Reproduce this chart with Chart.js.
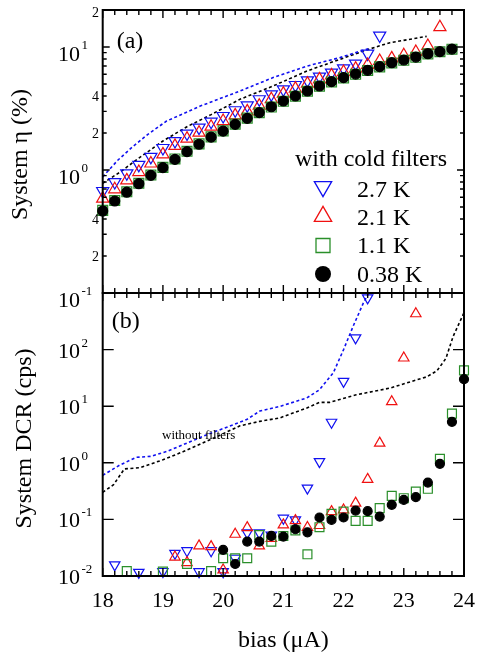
<!DOCTYPE html>
<html>
<head>
<meta charset="utf-8">
<script src="https://cdn.jsdelivr.net/npm/chart.js@4/dist/chart.umd.min.js"></script>
<style>
  html, body { margin: 0; padding: 0; background: #fff; }
  canvas { display: block; }
</style>
</head>
<body>
<canvas id="chart" width="477" height="666"></canvas>
<script>
// (a) system efficiency (%)
const etaBias = [18.0, 18.2, 18.4, 18.6, 18.8, 19.0, 19.2, 19.4, 19.6, 19.8, 20.0, 20.2, 20.4, 20.6, 20.8,
                 21.0, 21.2, 21.4, 21.6, 21.8, 22.0, 22.2, 22.4, 22.6, 22.8, 23.0, 23.2, 23.4, 23.6, 23.8];
const eta038 = [0.464, 0.56, 0.66, 0.774, 0.905, 1.046, 1.22, 1.41, 1.62, 1.85, 2.07, 2.35, 2.63, 2.93, 3.27,
                3.64, 4.0, 4.39, 4.82, 5.23, 5.64, 6.03, 6.47, 6.93, 7.46, 7.84, 8.29, 8.83, 9.17, 9.63];
const eta11 = [0.47, 0.565, 0.665, 0.78, 0.91, 1.05, 1.23, 1.42, 1.63, 1.86, 2.08, 2.36, 2.64, 2.92, 3.25,
               3.62, 3.98, 4.37, 4.8, 5.2, 5.6, 6.0, 6.45, 6.9, 7.42, 7.8, 8.25, 8.8, 9.15, 9.6];
const eta21 = [0.585, 0.697, 0.824, 0.963, 1.13, 1.34, 1.57, 1.80, 2.01, 2.25, 2.50, 2.78, 3.0, 3.33, 3.76,
               4.18, 4.59, 5.04, 5.46, 5.88, 6.26, 6.67, 7.14, 7.70, 8.09, 8.57, 9.12, 10.2, 14.5];
const eta27 = [0.675, 0.798, 0.94, 1.10, 1.28, 1.51, 1.72, 1.98, 2.21, 2.47, 2.75, 3.06, 3.36, 3.76, 4.12,
               4.53, 4.91, 5.36, 5.74, 6.19, 6.71, 7.33, 8.83, 12.4];
// dashed curves, without filters
const etaOpenBias27 = [18.0, 18.25, 18.5, 18.75, 19.06, 19.62, 20.28, 20.83, 21.39, 21.94, 22.41];
const etaOpen27 = [0.88, 1.2, 1.55, 1.95, 2.5, 3.31, 4.39, 5.64, 7.0, 8.2, 9.7];
const etaOpenBias = [18.0, 18.3, 18.6, 19.0, 19.4, 19.8, 20.28, 20.83, 21.39, 21.94, 22.38, 22.77, 23.38];
const etaOpen = [0.78, 0.97, 1.25, 1.72, 2.25, 2.82, 3.76, 4.82, 6.38, 7.94, 9.46, 10.85, 12.2];

// (b) system dark count rate (cps)
const dcrBias27 = [18.2, 18.6, 19.0, 19.2, 19.4, 19.6, 19.8, 20.0, 20.2, 20.4, 20.6, 20.8, 21.0, 21.2, 21.4,
                   21.6, 21.8, 22.0, 22.2, 22.4];
const dcr27 = [0.0157, 0.0116, 0.012, 0.0252, 0.028, 0.0119, 0.028, 0.0119, 0.0206, 0.058, 0.058, 0.053, 0.105,
               0.098, 0.357, 1.05, 5.2, 27.5, 161, 820];
const dcrBias21 = [19.2, 19.4, 19.6, 19.8, 20.0, 20.2, 20.4, 20.6, 20.8, 21.0, 21.2, 21.4, 21.6, 21.8, 22.0,
                   22.2, 22.4, 22.6, 22.8, 23.0, 23.2];
const dcr21 = [0.0216, 0.0172, 0.034, 0.033, 0.0128, 0.0547, 0.0716, 0.034, 0.0464, 0.08, 0.095, 0.072, 0.078,
               0.137, 0.147, 0.194, 0.51, 2.23, 12, 71, 430];
const dcrBias11 = [18.4, 19.0, 19.4, 19.8, 20.0, 20.2, 20.4, 20.6, 20.8, 21.0, 21.2, 21.4, 21.6, 21.8, 22.0,
                   22.2, 22.4, 22.6, 22.8, 23.0, 23.2, 23.4, 23.6, 23.8, 24.0];
const dcr11 = [0.0122, 0.012, 0.0163, 0.0122, 0.0206, 0.0206, 0.0206, 0.053, 0.0405, 0.051, 0.064, 0.0242,
               0.0728, 0.125, 0.137, 0.094, 0.094, 0.158, 0.26, 0.237, 0.31, 0.347, 1.18, 7.4, 43];
const dcrBias038 = [20.0, 20.2, 20.4, 20.6, 20.8, 21.0, 21.2, 21.4, 21.6, 21.8, 22.0, 22.2, 22.4, 22.6, 22.8,
                    23.0, 23.2, 23.4, 23.6, 23.8, 24.0];
const dcr038 = [0.029, 0.0163, 0.0405, 0.0405, 0.051, 0.0497, 0.067, 0.059, 0.108, 0.098, 0.108, 0.143, 0.14,
                0.112, 0.181, 0.221, 0.247, 0.447, 0.96, 5.3, 30];
const dcrOpenBias27 = [18.0, 18.29, 18.56, 18.8, 19.06, 19.4, 19.73, 20.17, 20.39, 20.61, 20.94, 21.39, 21.6,
                       21.83, 22.0, 22.16, 22.33, 22.42];
const dcrOpen27 = [0.6, 0.92, 1.25, 1.3, 1.58, 2.23, 3.13, 4.71, 5.8, 8.2, 9.9, 14, 19.5, 39, 100, 260, 670, 1000];
const dcrOpenBias = [18.0, 18.18, 18.36, 18.62, 19.0, 19.34, 19.78, 20.28, 20.61, 20.94, 21.39, 21.6, 21.77,
                     22.21, 22.77, 23.38, 23.55, 23.7, 23.82, 24.0];
const dcrOpen = [0.3, 0.41, 0.78, 0.82, 1.13, 1.58, 2.55, 4.5, 5.4, 6.2, 9.3, 11.7, 11.7, 15.9, 20.9, 33, 42,
                 70, 172, 450];

// axis labels
const biasTicks = [18, 19, 20, 21, 22, 23, 24];
const etaMajor = [0.1, 1, 10];
const etaMajorExp = ['-1', '0', '1'];
const etaMinorLabels = [[0.2, '2'], [0.4, '4'], [2, '2'], [4, '4'], [20, '2']];
const dcrMajor = [0.01, 0.1, 1, 10, 100];
const dcrMajorExp = ['-2', '-1', '0', '1', '2'];
const legendLabels = ['2.7 K', '2.1 K', '1.1 K', '0.38 K'];

const BLUE = '#1010f0', RED = '#f01010', GREEN = '#2a8f2a', BLACK = '#000';
const FONT = '"Liberation Serif", "Times New Roman", serif';

const pts = (xs, ys) => ys.map((v, i) => ({ x: xs[i], y: v }));

function markers(xs, ys, axis, style, color, r, rot) {
    return {
        data: pts(xs, ys), yAxisID: axis, showLine: false, clip: false,
        pointStyle: style, rotation: rot || 0, pointRadius: r, pointHoverRadius: r,
        pointBorderWidth: 1.2, pointBorderColor: color,
        pointBackgroundColor: style === 'circle' ? color : 'rgba(0,0,0,0)'
    };
}
function dashed(xs, ys, axis, color) {
    return {
        data: pts(xs, ys), yAxisID: axis, showLine: true, pointRadius: 0,
        borderColor: color, borderWidth: 1.6, borderDash: [3, 2.5], tension: 0, fill: false
    };
}

function drawMarker(ctx, kind, cx, cy, s, color) {
    ctx.beginPath();
    if (kind === 'circle') {
        ctx.arc(cx, cy, s, 0, Math.PI * 2);
        ctx.fillStyle = color;
        ctx.fill();
        return;
    }
    if (kind === 'square') {
        ctx.rect(cx - s, cy - s, 2 * s, 2 * s);
    } else {
        const d = kind === 'down' ? -1 : 1;
        ctx.moveTo(cx, cy - d * s);
        ctx.lineTo(cx + s * 0.866, cy + d * s * 0.5);
        ctx.lineTo(cx - s * 0.866, cy + d * s * 0.5);
        ctx.closePath();
    }
    ctx.strokeStyle = color;
    ctx.lineWidth = 1.3;
    ctx.stroke();
}

const framePlugin = {
    id: 'frame',
    afterDatasetsDraw(chart) {
        const ctx = chart.ctx;
        const x = chart.scales.x;
        const panels = [
            { y: chart.scales.yTop, major: etaMajor, majorLen: 7, minor: true },
            { y: chart.scales.yBot, major: dcrMajor.concat([1000]), majorLen: 11, minor: false }
        ];
        ctx.save();
        ctx.strokeStyle = '#000';
        panels.forEach(p => {
            const y = p.y;
            ctx.lineWidth = 1.4;
            ctx.beginPath();
            for (let i = 0; i <= 30; i++) {
                const px = x.getPixelForValue(18 + i * 0.2);
                const len = i % 5 === 0 ? 8 : 5;
                ctx.moveTo(px, y.bottom); ctx.lineTo(px, y.bottom - len);
                ctx.moveTo(px, y.top); ctx.lineTo(px, y.top + len);
            }
            const yTicks = [];
            p.major.forEach(v => yTicks.push([v, p.majorLen]));
            if (p.minor) {
                [0.1, 1, 10].forEach(dec => {
                    for (let m = 2; m <= 9; m++) {
                        if (m * dec <= y.max + 1e-9) yTicks.push([m * dec, 4]);
                    }
                });
            }
            yTicks.forEach(([v, len]) => {
                const py = y.getPixelForValue(v);
                ctx.moveTo(x.left, py); ctx.lineTo(x.left + len, py);
                ctx.moveTo(x.right, py); ctx.lineTo(x.right - len, py);
            });
            ctx.stroke();
            ctx.lineWidth = 2;
            ctx.strokeRect(x.left, y.top, x.right - x.left, y.bottom - y.top);
        });
        ctx.restore();
    },
    afterDraw(chart) {
        const ctx = chart.ctx;
        const x = chart.scales.x, yT = chart.scales.yTop, yB = chart.scales.yBot;
        ctx.save();
        ctx.fillStyle = '#000';
        ctx.textBaseline = 'alphabetic';

        // x tick labels and title
        ctx.font = '22px ' + FONT;
        ctx.textAlign = 'center';
        biasTicks.forEach(v => ctx.fillText(String(v), x.getPixelForValue(v), 607));
        ctx.font = '24px ' + FONT;
        ctx.fillText('bias (\u03bcA)', (x.left + x.right) / 2, 647);

        // y tick labels, powers of ten
        const pow = (exp, py, dBase, dSup) => {
            ctx.font = '22px ' + FONT;
            ctx.textAlign = 'right';
            ctx.fillText('10', 80, py + dBase);
            ctx.font = '13px ' + FONT;
            ctx.textAlign = 'left';
            ctx.fillText(exp, 81.5, py + dSup);
        };
        etaMajor.forEach((v, i) => pow(etaMajorExp[i], yT.getPixelForValue(v), 14, 2));
        dcrMajor.forEach((v, i) => pow(dcrMajorExp[i], yB.getPixelForValue(v), 8, -3));
        ctx.font = '14px ' + FONT;
        ctx.textAlign = 'right';
        etaMinorLabels.forEach(([v, t]) => {
            const py = Math.max(yT.getPixelForValue(v), yT.top + 2);
            ctx.fillText(t, 99, py + 4.8);
        });

        // y titles
        ctx.font = '24px ' + FONT;
        ctx.textAlign = 'center';
        ctx.textBaseline = 'middle';
        [['System \u03b7 (%)', 21, (yT.top + yT.bottom) / 2 + 3],
         ['System DCR (cps)', 25, (yB.top + yB.bottom) / 2 + 4]].forEach(([t, tx, ty]) => {
            ctx.save();
            ctx.translate(tx, ty);
            ctx.rotate(-Math.PI / 2);
            ctx.fillText(t, 0, 0);
            ctx.restore();
        });

        // panel tags and notes
        ctx.textBaseline = 'alphabetic';
        ctx.textAlign = 'left';
        ctx.font = '24px ' + FONT;
        ctx.fillText('(a)', x.left + 14, yT.top + 38);
        ctx.fillText('(b)', x.left + 9, yB.top + 35);
        ctx.font = '13px ' + FONT;
        ctx.fillText('without filters', 162, 439);

        // legend
        ctx.font = '24px ' + FONT;
        ctx.fillText('with cold filters', 295, 166);
        const kinds = [['down', BLUE, 186.6, 10], ['up', RED, 216.4, 10], ['square', GREEN, 245.5, 7], ['circle', BLACK, 274, 8]];
        kinds.forEach(([k, c, cy, s], i) => {
            drawMarker(ctx, k, 323, cy, s, c);
            ctx.fillStyle = '#000';
            ctx.fillText(legendLabels[i], 357, [196.5, 225, 253, 281.5][i]);
        });
        ctx.restore();
    }
};

const hidden = { ticks: { display: false }, grid: { display: false, drawTicks: false }, border: { display: false } };

new Chart(document.getElementById('chart'), {
    type: 'scatter',
    data: {
        datasets: [
            markers(etaBias, eta038, 'yTop', 'circle', BLACK, 5),
            markers(etaBias, eta11, 'yTop', 'rect', GREEN, 7),
            markers(etaBias, eta21, 'yTop', 'triangle', RED, 7),
            markers(etaBias, eta27, 'yTop', 'triangle', BLUE, 7, 180),
            dashed(etaOpenBias27, etaOpen27, 'yTop', BLUE),
            dashed(etaOpenBias, etaOpen, 'yTop', BLACK),
            markers(dcrBias038, dcr038, 'yBot', 'circle', BLACK, 4.5),
            markers(dcrBias11, dcr11, 'yBot', 'rect', GREEN, 6.3),
            markers(dcrBias21, dcr21, 'yBot', 'triangle', RED, 6),
            markers(dcrBias27, dcr27, 'yBot', 'triangle', BLUE, 6, 180),
            dashed(dcrOpenBias27, dcrOpen27, 'yBot', BLUE),
            dashed(dcrOpenBias, dcrOpen, 'yBot', BLACK)
        ]
    },
    options: {
        responsive: false,
        animation: false,
        devicePixelRatio: 1,
        layout: { padding: { left: 102.7, right: 13, top: 10, bottom: 90 } },
        plugins: { legend: { display: false }, tooltip: { enabled: false } },
        scales: {
            x: Object.assign({ type: 'linear', min: 18, max: 24 }, hidden),
            yTop: Object.assign({
                type: 'logarithmic', min: 0.1, max: 20, position: 'left',
                stack: 'panels', stackWeight: 1, weight: 1
            }, hidden),
            yBot: Object.assign({
                type: 'logarithmic', min: 0.01, max: 1000, position: 'left',
                stack: 'panels', stackWeight: 1, weight: 0
            }, hidden)
        }
    },
    plugins: [framePlugin]
});
</script>
</body>
</html>
